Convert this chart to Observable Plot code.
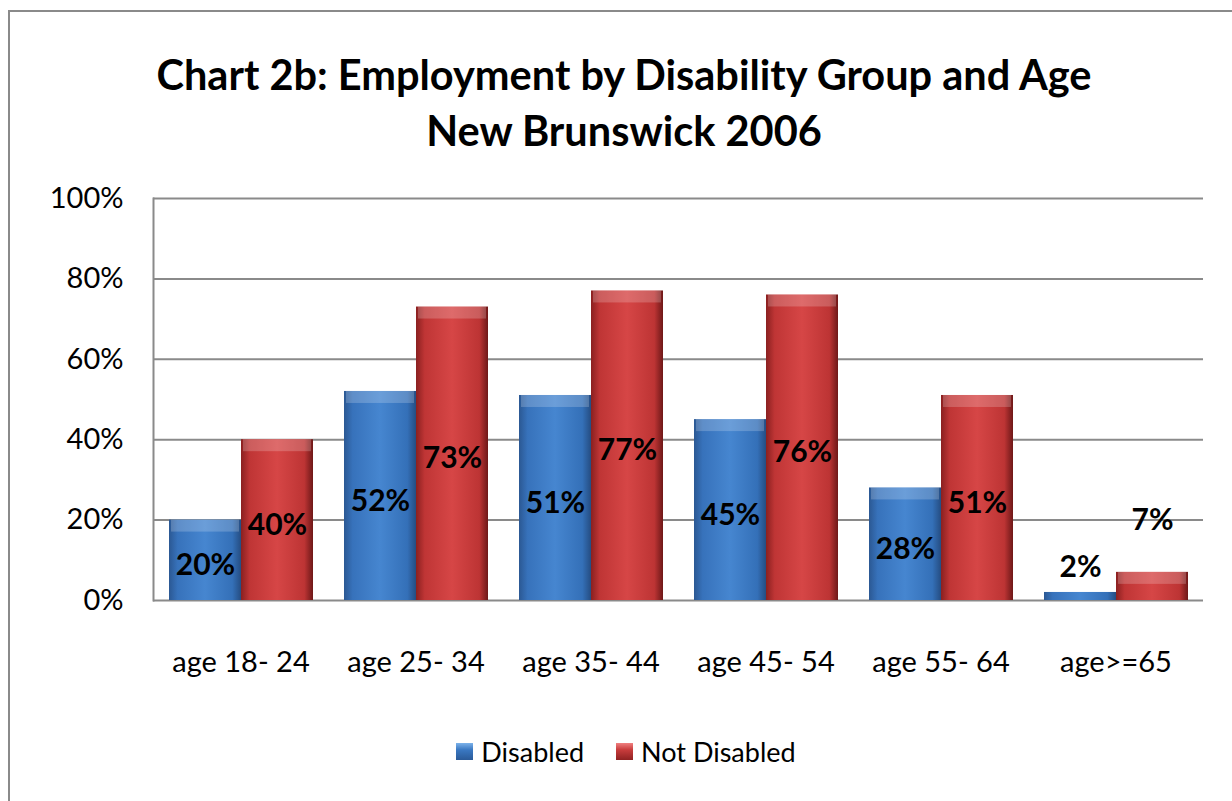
<!DOCTYPE html>
<html><head><meta charset="utf-8">
<script src="https://cdn.jsdelivr.net/npm/d3@7"></script>
<script src="https://cdn.jsdelivr.net/npm/@observablehq/plot@0.6"></script>
<style>
body{margin:0;background:#fff;font-family:Lato,sans-serif;}
#wrap{position:relative;width:1232px;height:801px;overflow:hidden;background:#fff;}
#border{position:absolute;left:8px;top:10px;width:1280px;height:840px;border:2px solid #8a8a8a;box-sizing:border-box;}
#title{position:absolute;left:8px;width:1232px;top:46px;text-align:center;font-weight:bold;font-size:41.5px;line-height:56px;color:#000;}
#chart{position:absolute;left:0;top:180px;}
#legend{position:absolute;left:10px;width:1232px;top:735px;display:flex;justify-content:center;align-items:center;font-size:27px;color:#000;}
.item{display:flex;align-items:center;margin:0 16px;}
.sw{width:17px;height:17px;margin-right:8px;}
</style></head>
<body><div id="wrap">
<div id="border"></div>
<div id="title">Chart 2b: Employment by Disability Group and Age<br>New Brunswick 2006</div>
<div id="chart"></div>
<div id="legend"></div>
</div>
<script>
const ages = ["age 18- 24","age 25- 34","age 35- 44","age 45- 54","age 55- 64","age>=65"];
const series = ["Disabled","Not Disabled"];
const disabled = [20,52,51,45,28,2];
const notDisabled = [40,73,77,76,51,7];
const yTicks = [0,20,40,60,80,100];
const seriesFill = ["url(#gBlue)","url(#gRed)"];
const swatchCss = ["linear-gradient(to bottom,#7cb2ea,#3a78c2 40%,#2a5a98)","linear-gradient(to bottom,#f08080,#c83c3c 40%,#8f2222)"];

const data = ages.flatMap((a,i)=>[
  {age:a, series:series[0], v:disabled[i]},
  {age:a, series:series[1], v:notDisabled[i]}
]);
const big = data.filter(d=>d.v>=10);
const smallD = data.filter(d=>d.v<10 && d.series===series[0]);
const smallN = data.filter(d=>d.v<10 && d.series===series[1]);

const chart = Plot.plot({
  width:1232, height:520,
  marginTop:18, marginBottom:100, marginLeft:152, marginRight:29,
  style:{fontFamily:"Lato, sans-serif", background:"transparent", color:"#000"},
  fx:{domain:ages, padding:0, label:null},
  x:{domain:series, paddingInner:0, paddingOuter:0.215, axis:null},
  y:{domain:[0,100], label:null},
  color:{domain:series, range:seriesFill},
  marks:[
    Plot.gridY(yTicks, {stroke:"#8a8a8a", strokeOpacity:1, strokeWidth:2}),
    Plot.frame({anchor:"left", facetAnchor:"left", stroke:"#8a8a8a", strokeWidth:2}),
    Plot.barY(data, {fx:"age", x:"series", y:"v", fill:"series"}),
    Plot.barY(data.filter(d=>d.v>=5), {fx:"age", x:"series", y1:"v", y2:"v", insetBottom:-12, insetLeft:2, insetRight:2, fill:"white", fillOpacity:0.2}),
    Plot.axisY({ticks:yTicks, tickFormat:d=>d+"%", tickSize:0, tickPadding:30, fontSize:29, label:null}),
    Plot.axisFx({anchor:"bottom", tickSize:0, tickPadding:51, fontSize:29, label:null}),
    Plot.text(big, {fx:"age", x:"series", y:d=>d.v/2, text:d=>d.v+"%", fontWeight:"bold", fontSize:30, dy:5, fill:"#000"}),
    Plot.text(smallD, {fx:"age", x:"series", y:"v", text:d=>d.v+"%", fontWeight:"bold", fontSize:30, dy:-25, fill:"#000"}),
    Plot.text(smallN, {fx:"age", x:"series", y:"v", text:d=>d.v+"%", fontWeight:"bold", fontSize:30, dy:-52, fill:"#000"})
  ]
});

const svgEl = chart.tagName.toLowerCase()==="svg" ? chart : chart.querySelector("svg");
const svg = d3.select(svgEl);
const defs = svg.insert("defs", ":first-child");
function grad(id, stops){
  const g = defs.append("linearGradient").attr("id", id).attr("x1","0").attr("x2","1").attr("y1","0").attr("y2","0");
  stops.forEach(([o,c])=>g.append("stop").attr("offset",o).attr("stop-color",c));
}
grad("gBlue", [["0%","#2b5893"],["12%","#3772bb"],["50%","#4686d0"],["88%","#3470b8"],["100%","#254d82"]]);
grad("gRed", [["0%","#8a2020"],["12%","#bf3535"],["50%","#d64646"],["88%","#bd3434"],["100%","#6e1818"]]);
document.getElementById("chart").appendChild(chart);

const legend = d3.select("#legend");
series.forEach((s,i)=>{
  const it = legend.append("div").attr("class","item");
  it.append("div").attr("class","sw").style("background", swatchCss[i]);
  it.append("span").text(s);
});
</script>
</body></html>
